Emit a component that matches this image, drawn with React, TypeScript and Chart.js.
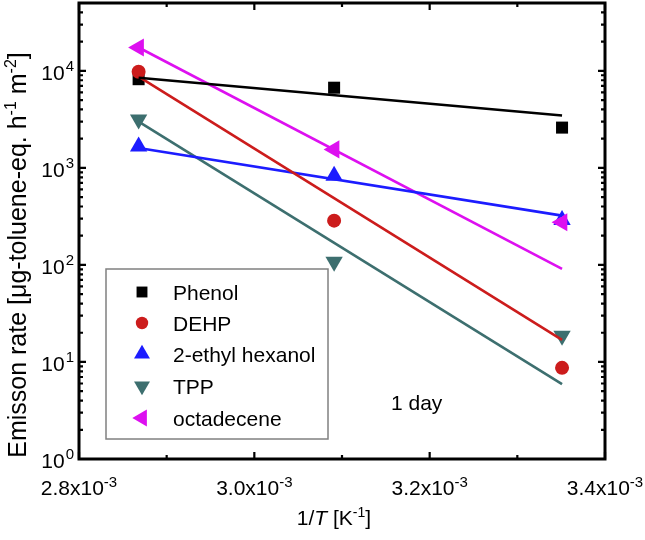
import React, { useEffect, useRef } from 'react';
import { Chart, registerables } from 'chart.js';

Chart.register(...registerables);

// ---- data ----
const invTemperature = [2.868e-3, 3.091e-3, 3.351e-3]; // 1/T [K^-1]
const fitRange = [2.868e-3, 3.351e-3];

const seriesNames = ['Phenol', 'DEHP', '2-ethyl hexanol', 'TPP', 'octadecene'];
const phenol = [8200, 6700, 2600];
const dehp = [9800, 286, 8.7];
const ethylHexanol = [1660, 830, 290];
const tpp = [3150, 108, 18.6];
const octadecene = [17400, 1550, 275];

const phenolFit = [8500, 3470];
const dehpFit = [8700, 16.9];
const ethylHexanolFit = [1600, 322];
const tppFit = [3000, 5.9];
const octadeceneFit = [17400, 91];

const xTicks = [2.8e-3, 3.0e-3, 3.2e-3, 3.4e-3];
const xTickLabels = ['2.8x10', '3.0x10', '3.2x10', '3.4x10'];
const xTickExponent = '-3';
const xMinorTicks = [2.9e-3, 3.1e-3, 3.3e-3];
const yTicks = [1, 10, 100, 1000, 10000];
const yTickExponents = ['0', '1', '2', '3', '4'];
const yMinorMultipliers = [2, 3, 4, 5, 6, 7, 8, 9];

const X_MIN = 2.8e-3;
const X_MAX = 3.4e-3;
const Y_MIN = 1;
const Y_MAX = 5e4;

const colors = ['#000000', '#cc1c1c', '#1c1cff', '#3d6f6f', '#dd10f0'];
const styles = ['rect', 'circle', 'triangle', 'triangle', 'triangle'];
const rotations = [0, 0, 0, 180, -90];
const radii = [8.5, 7, 10, 10, 10.5];

const FONT = '"Liberation Sans", Arial, sans-serif';

const seriesValues = [phenol, dehp, ethylHexanol, tpp, octadecene];
const seriesFits = [phenolFit, dehpFit, ethylHexanolFit, tppFit, octadeceneFit];

function drawMarker(ctx: CanvasRenderingContext2D, style: string, rotation: number, x: number, y: number, r: number, color: string) {
  ctx.save();
  ctx.fillStyle = color;
  ctx.beginPath();
  if (style === 'rect') {
    const s = Math.SQRT1_2 * r;
    ctx.rect(x - s, y - s, 2 * s, 2 * s);
  } else if (style === 'circle') {
    ctx.arc(x, y, r, 0, Math.PI * 2);
  } else {
    let a = (rotation * Math.PI) / 180;
    ctx.moveTo(x + Math.sin(a) * r, y - Math.cos(a) * r);
    a += (2 * Math.PI) / 3;
    ctx.lineTo(x + Math.sin(a) * r, y - Math.cos(a) * r);
    a += (2 * Math.PI) / 3;
    ctx.lineTo(x + Math.sin(a) * r, y - Math.cos(a) * r);
    ctx.closePath();
  }
  ctx.fill();
  ctx.restore();
}

type Seg = { t: string; sup?: boolean; italic?: boolean };

function drawSegments(ctx: CanvasRenderingContext2D, segs: Seg[], cx: number, baseline: number, size: number, supSize: number, supRise: number) {
  const fontFor = (s: Seg) => `${s.italic ? 'italic ' : ''}${s.sup ? supSize : size}px ${FONT}`;
  let total = 0;
  for (const s of segs) {
    ctx.font = fontFor(s);
    total += ctx.measureText(s.t).width;
  }
  let x = cx - total / 2;
  ctx.textAlign = 'left';
  ctx.textBaseline = 'alphabetic';
  for (const s of segs) {
    ctx.font = fontFor(s);
    ctx.fillText(s.t, x, s.sup ? baseline - supRise : baseline);
    x += ctx.measureText(s.t).width;
  }
}

const overlayPlugin = {
  id: 'overlay',
  afterDraw(chart: any) {
    const { ctx, chartArea: a, scales } = chart;
    const xs = scales.x;
    const ys = scales.y;
    ctx.save();
    ctx.fillStyle = '#000';
    ctx.strokeStyle = '#000';

    // ticks (inward, all four sides)
    ctx.lineWidth = 2.2;
    ctx.beginPath();
    const hTick = (v: number, len: number) => {
      const px = xs.getPixelForValue(v);
      ctx.moveTo(px, a.bottom);
      ctx.lineTo(px, a.bottom - len);
      ctx.moveTo(px, a.top);
      ctx.lineTo(px, a.top + len);
    };
    const vTick = (v: number, len: number) => {
      const py = ys.getPixelForValue(v);
      ctx.moveTo(a.left, py);
      ctx.lineTo(a.left + len, py);
      ctx.moveTo(a.right, py);
      ctx.lineTo(a.right - len, py);
    };
    xTicks.forEach((v) => hTick(v, 7));
    xMinorTicks.forEach((v) => hTick(v, 4));
    yTicks.forEach((v) => vTick(v, 7));
    yTicks.forEach((d) =>
      yMinorMultipliers.forEach((m) => {
        const v = d * m;
        if (v < Y_MAX) vTick(v, 4);
      })
    );
    ctx.stroke();

    // frame
    ctx.lineWidth = 3;
    ctx.strokeRect(a.left, a.top, a.right - a.left, a.bottom - a.top);

    // y tick labels
    yTicks.forEach((v, i) => {
      const py = ys.getPixelForValue(v);
      ctx.font = `15px ${FONT}`;
      const supW = ctx.measureText(yTickExponents[i]).width;
      ctx.font = `21px ${FONT}`;
      const baseW = ctx.measureText('10').width;
      const right = a.left - 5;
      ctx.textAlign = 'left';
      ctx.fillText('10', right - supW - baseW - 1, py + 9);
      ctx.font = `15px ${FONT}`;
      ctx.fillText(yTickExponents[i], right - supW, py);
    });

    // x tick labels
    xTicks.forEach((v, i) => {
      const px = xs.getPixelForValue(v);
      drawSegments(ctx, [{ t: xTickLabels[i] }, { t: xTickExponent, sup: true }], px, a.bottom + 36, 21, 15, 8);
    });

    // x title
    drawSegments(
      ctx,
      [{ t: '1/' }, { t: 'T', italic: true }, { t: ' [K' }, { t: '-1', sup: true }, { t: ']' }],
      (a.left + a.right) / 2 - 8,
      525,
      21,
      14,
      8
    );

    // y title
    ctx.save();
    ctx.translate(26, 255);
    ctx.rotate(-Math.PI / 2);
    drawSegments(
      ctx,
      [
        { t: 'Emisson rate [\u03bcg-toluene-eq. h' },
        { t: '-1', sup: true },
        { t: ' m' },
        { t: '-2', sup: true },
        { t: ']' },
      ],
      0,
      0,
      25,
      16,
      10
    );
    ctx.restore();

    // annotation
    ctx.font = `21px ${FONT}`;
    ctx.textAlign = 'left';
    ctx.fillText('1 day', 391, 410);

    // legend
    const lx = 106, ly = 269, lw = 222, lh = 170;
    ctx.fillStyle = '#fff';
    ctx.fillRect(lx, ly, lw, lh);
    ctx.strokeStyle = '#808080';
    ctx.lineWidth = 1.5;
    ctx.strokeRect(lx, ly, lw, lh);
    const rowY = [292, 323, 354, 386, 418];
    seriesNames.forEach((name, i) => {
      drawMarker(ctx, styles[i], rotations[i], 142, rowY[i], radii[i] - 0.8, colors[i]);
      ctx.fillStyle = '#000';
      ctx.font = `21px ${FONT}`;
      ctx.fillText(name, 173, rowY[i] + 8);
    });

    ctx.restore();
  },
};

export default function App() {
  const ref = useRef<HTMLCanvasElement>(null);
  useEffect(() => {
    const markerSets = seriesNames.map((name, i) => ({
      type: 'scatter' as const,
      label: name,
      data: invTemperature.map((x, j) => ({ x, y: seriesValues[i][j] })),
      showLine: false,
      pointStyle: styles[i],
      rotation: rotations[i],
      pointRadius: radii[i],
      pointHoverRadius: radii[i],
      backgroundColor: colors[i],
      borderColor: colors[i],
      borderWidth: 0,
      order: 1 + (seriesNames.length - i),
    }));
    const fitSets = seriesNames.map((name, i) => ({
      type: 'scatter' as const,
      label: name + ' fit',
      data: fitRange.map((x, j) => ({ x, y: seriesFits[i][j] })),
      showLine: true,
      pointRadius: 0,
      borderColor: colors[i],
      backgroundColor: colors[i],
      borderWidth: 2.6,
      fill: false,
      order: 0,
    }));
    const chart = new Chart(ref.current!, {
      type: 'scatter',
      data: { datasets: [...markerSets, ...fitSets] as any },
      options: {
        animation: false,
        responsive: false,
        devicePixelRatio: 1,
        layout: { autoPadding: false, padding: { left: 79, right: 40, top: 3, bottom: 81 } },
        plugins: { legend: { display: false }, tooltip: { enabled: false } },
        scales: {
          x: { type: 'linear', min: X_MIN, max: X_MAX, display: false },
          y: { type: 'logarithmic', min: Y_MIN, max: Y_MAX, display: false },
        },
      },
      plugins: [overlayPlugin],
    });
    return () => chart.destroy();
  }, []);
  return (
    <div style={{ position: 'fixed', left: 0, top: 0, width: 645, height: 540, background: '#fff' }}>
      <canvas ref={ref} width={645} height={540} style={{ display: 'block', width: 645, height: 540 }} />
    </div>
  );
}
